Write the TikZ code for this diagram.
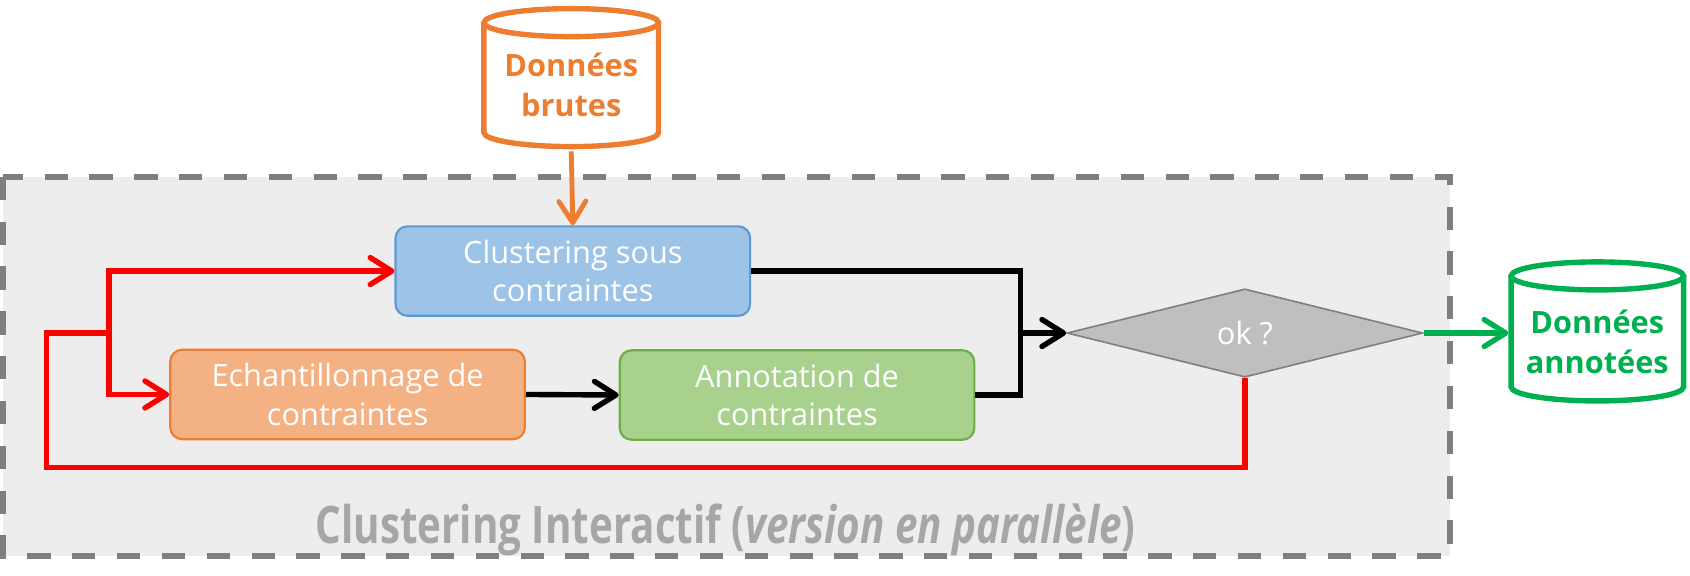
\documentclass[tikz,border=0pt]{standalone}
\usepackage{fontspec}
\setmainfont{Open Sans}
\usepackage{tikz}
\usetikzlibrary{arrows.meta,shapes.geometric,calc}
\definecolor{orangeD}{HTML}{ED7D31}
\definecolor{orangeF}{HTML}{F4B183}
\definecolor{blueF}{HTML}{9DC3E6}
\definecolor{blueD}{HTML}{5B9BD5}
\definecolor{greenF}{HTML}{A9D18E}
\definecolor{greenB}{HTML}{70AD47}
\definecolor{greenD}{HTML}{00B050}
\definecolor{grayF}{HTML}{BFBFBF}
\definecolor{grayD}{HTML}{7F7F7F}
\definecolor{frameF}{HTML}{EDEDED}
\definecolor{titleG}{HTML}{A6A6A6}
\definecolor{redL}{HTML}{FF0000}

\begin{document}
\begin{tikzpicture}[x=1pt, y=-1pt, line width=5pt,
  box/.style={rounded corners=11pt, line width=2pt, minimum width=329pt,
    minimum height=83pt, inner sep=0pt, text=white, align=center,
    font=\fontsize{28.5}{36}\selectfont},
  store/.style={minimum width=161pt, inner sep=0pt, align=center,
    font=\bfseries\fontsize{28.5}{37}\selectfont},
  flow/.style={-{Straight Barb[round,length=20pt,width=25pt]}}]
  \useasboundingbox (0,0) rectangle (1568,534.42);
  % dashed frame of the interactive loop
  \draw[fill=frameF, draw=grayD, line width=5.5pt, dash pattern=on 21.6pt off 20pt]
    (3,164) rectangle (1345,516);
  \node[text=titleG, font=\bfseries\fontsize{48}{48}\selectfont, anchor=base]
    (title) at (673,504)
    {\scalebox{0.78}[1]{Clustering Interactif (\textit{version en parallèle})}};
  % raw data store (outline drawn by hand)
  \draw[orangeD, fill=white] (449,21) -- (449,123)
    arc[start angle=180, end angle=0, x radius=81, y radius=13] -- (611,21);
  \draw[orangeD, fill=white] (530,21) ellipse[x radius=81, y radius=13];
  \node[store, text=orangeD, minimum height=118pt] (raw) at (530,79) {Données\\brutes};
  % labelled data store
  \draw[greenD, fill=white] (1402,256) -- (1402,359)
    arc[start angle=180, end angle=0, x radius=80, y radius=13] -- (1562,256);
  \draw[greenD, fill=white] (1482,256) ellipse[x radius=80, y radius=13];
  \node[store, text=greenD, minimum width=160pt, minimum height=100pt] (labeled) at (1482,317)
    {Données\\annotées};
  % process boxes
  \node[box, fill=blueF, draw=blueD] (clust) at (531.5,251.5) {Clustering sous\\contraintes};
  \node[box, fill=orangeF, draw=orangeD] (sample) at (322.5,366) {Echantillonnage de\\contraintes};
  \node[box, fill=greenF, draw=greenB] (annot) at (739.5,366.5) {Annotation de\\contraintes};
  \node[diamond, aspect=4, fill=grayF, draw=grayD, line width=1.5pt, inner sep=0pt,
    minimum width=330pt, minimum height=82pt, text=white,
    font=\fontsize{28.5}{36}\selectfont] (ok) at (1155,309) {ok ?};
  % connectors
  \draw[flow, orangeD, line width=4.5pt] (raw.south) -- (clust.north);
  \draw[flow] (sample.east) -- (annot.west);
  \coordinate (join) at (947,309);
  \draw (clust.east) -| (join);
  \draw (annot.east) -| (join);
  \draw[flow] (join) -- (ok.west);
  \draw[flow, greenD] (ok.east) -- (ok.east -| labeled.west);
  % red feedback loop
  \coordinate (split) at (101,309);
  \coordinate (loop) at (43,434);
  \draw[redL] (ok.south) |- (loop) |- (split);
  \draw[flow, redL] (split) |- (clust.west);
  \draw[flow, redL] (split) |- (sample.west);
\end{tikzpicture}
\end{document}
